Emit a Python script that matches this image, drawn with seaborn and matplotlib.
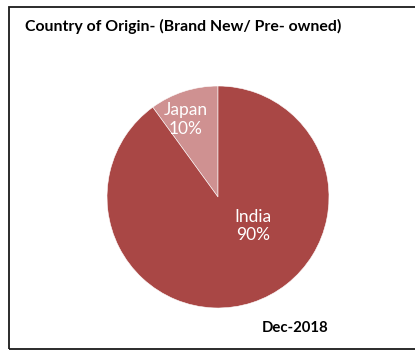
import matplotlib
matplotlib.use("Agg")
import matplotlib.pyplot as plt
from matplotlib.patches import Rectangle
import seaborn as sns

countries = ["Japan", "India"]
shares = [10, 90]
slice_colors = ["#CF9191", "#A94745"]
title = "Country of Origin- (Brand New/ Pre- owned)"
period = "Dec-2018"

sns.set_theme(style="white")
plt.rcParams["font.family"] = ["Lato", "DejaVu Sans"]

W, H = 415, 351
fig = plt.figure(figsize=(W / 100, H / 100), dpi=100)
fig.patch.set_facecolor("white")

# outer frame (right edge is cut off in the original)
fig.add_artist(Rectangle((9 / W, (H - 349) / H), 1.2, (349 - 7) / H,
                         transform=fig.transFigure, fill=False,
                         edgecolor="#1a1a1a", linewidth=1.3))

fig.text(25 / W, 1 - 26 / H, title, fontsize=11.4, fontweight="bold",
         va="center", ha="left", color="black")
fig.text(262 / W, 1 - 328 / H, period, fontsize=10.7, fontweight="bold",
         va="center", ha="left", color="black")

ax = fig.add_axes([107 / W, (H - 308) / H, 222 / W, 222 / H])
wedges, texts = ax.pie(
    shares, colors=slice_colors, startangle=90, counterclock=True,
    radius=1, labels=None,
    wedgeprops=dict(edgecolor="white", linewidth=0.4))
ax.set_xlim(-1, 1)
ax.set_ylim(-1, 1)
ax.set_aspect("equal")
ax.axis("off")

# label placement similar to the Excel default
label_pos = {"Japan": (-0.29, 0.70), "India": (0.315, -0.26)}
for name, val in zip(countries, shares):
    x, y = label_pos[name]
    ax.text(x, y, f"{name}\n{val}%", ha="center", va="center",
            color="white", fontsize=12.5, linespacing=1.2)

fig.savefig("out.png", dpi=100, facecolor="white")
